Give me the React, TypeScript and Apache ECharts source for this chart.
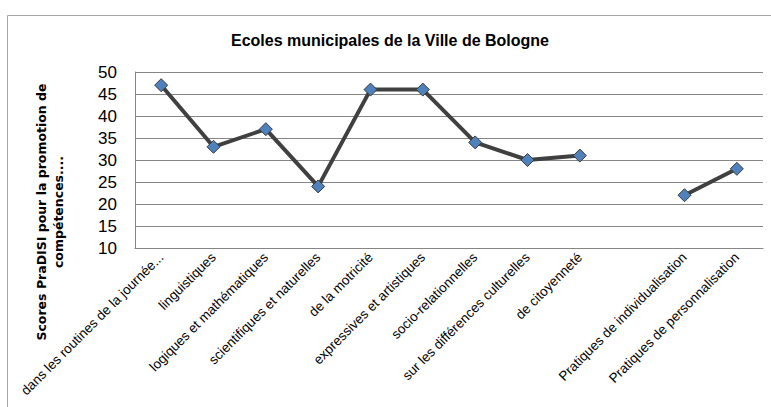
import React, { useEffect, useRef } from "react";
import * as echarts from "echarts";

const categories = [
  "dans les routines de la journée...",
  "linguistiques",
  "logiques et mathématiques",
  "scientifiques et naturelles",
  "de la motricité",
  "expressives et artistiques",
  "socio-relationnelles",
  "sur les différences culturelles",
  "de citoyenneté",
  "",
  "Pratiques de individualisation",
  "Pratiques de personnalisation",
];
const scores: (number | null)[] = [47, 33, 37, 24, 46, 46, 34, 30, 31, null, 22, 28];
const title = "Ecoles municipales de la Ville de Bologne";
const yName = ["Scores PraDISI pour la promotion de", "compétences...."];

export default function App() {
  const ref = useRef<HTMLDivElement>(null);
  useEffect(() => {
    const chart = echarts.init(ref.current!, null, { renderer: "svg" });
    chart.setOption({
      animation: false,
      backgroundColor: "#ffffff",
      title: {
        text: title,
        left: 385,
        textAlign: "center",
        top: 27,
        textStyle: { fontFamily: "Liberation Sans Narrow, Liberation Sans", fontSize: 16, fontWeight: "bold", color: "#000" },
      },
      graphic: [
        {
          type: "rect",
          shape: { x: 7.5, y: 15.5, width: 900, height: 600 },
          style: { fill: "none", stroke: "#a6a6a6", lineWidth: 1 },
          silent: true,
        },
        {
          type: "text",
          x: 50,
          y: 212,
          rotation: Math.PI / 2,
          style: {
            text: yName.join("\n"),
            align: "center",
            verticalAlign: "middle",
            fontFamily: "DejaVu Sans",
            fontSize: 12.5,
            fontWeight: "bold",
            lineHeight: 17,
            fill: "#000",
          },
        },
      ],
      grid: { left: 135, top: 72, right: 8, bottom: 159 },
      xAxis: {
        type: "category",
        data: categories,
        boundaryGap: true,
        axisLine: { show: true, lineStyle: { color: "#868686", width: 1 } },
        axisTick: { show: false },
        axisLabel: {
          rotate: 45,
          interval: 0,
          margin: 7,
          fontFamily: "Liberation Sans",
          fontSize: 13.5,
          color: "#000",
        },
      },
      yAxis: {
        type: "value",
        min: 10,
        max: 50,
        interval: 5,
        axisLine: { show: true, lineStyle: { color: "#868686", width: 1 } },
        axisTick: { show: false },
        axisLabel: { fontFamily: "Liberation Sans", fontSize: 17, color: "#000", margin: 18 },
        splitLine: { show: true, lineStyle: { color: "#868686", width: 1 } },
      },
      series: [
        {
          type: "line",
          data: scores,
          connectNulls: false,
          symbol: "diamond",
          symbolSize: 13,
          lineStyle: { color: "#404040", width: 4 },
          itemStyle: { color: "#4f81bd", borderColor: "#3a3a3a", borderWidth: 1 },
        },
      ],
    });
    return () => chart.dispose();
  }, []);
  return <div ref={ref} style={{ position: "absolute", left: 0, top: 0, width: 771, height: 407 }} />;
}
